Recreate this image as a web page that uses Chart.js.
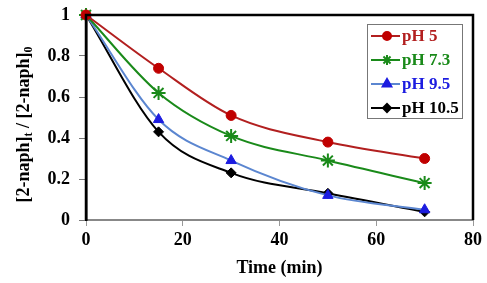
<!DOCTYPE html>
<html>
<head>
<meta charset="utf-8">
<script src="https://cdn.jsdelivr.net/npm/chart.js@4.4.1/dist/chart.umd.min.js"></script>
<style>
  html, body { margin: 0; padding: 0; background: #fff; }
  #wrap { width: 487px; height: 283px; position: relative; }
</style>
</head>
<body>
<div id="wrap"><canvas id="chart"></canvas></div>
<script>
// data
const times = [0, 15, 30, 50, 70];
const ph5 = [1, 0.74, 0.51, 0.38, 0.30];
const ph73 = [1, 0.62, 0.41, 0.29, 0.18];
const ph95 = [1, 0.49, 0.29, 0.12, 0.05];
const ph105 = [1, 0.43, 0.23, 0.13, 0.04];
const yTicks = [0, 0.2, 0.4, 0.6, 0.8, 1];
const xTicks = [0, 20, 40, 60, 80];

const FONT = '"Liberation Serif", "Times New Roman", serif';

const series = [
  { label: 'pH 5', values: ph5, line: '#b21f1f', mark: '#c00000', text: '#b21f1f', style: 'circle', r: 5, lr: 4 },
  { label: 'pH 7.3', values: ph73, line: '#1a8a1a', mark: '#1a8a1a', text: '#1a8a1a', style: 'star', r: 7, lr: 5 },
  { label: 'pH 9.5', values: ph95, line: '#5b86d0', mark: '#1c1ce0', text: '#1c1ce0', style: 'triangle', r: 6, lr: 5 },
  { label: 'pH 10.5', values: ph105, line: '#000000', mark: '#000000', text: '#000000', style: 'rectRot', r: 5, lr: 4 }
];

const datasets = series.map(s => ({
  label: s.label,
  data: times.map((t, i) => ({ x: t, y: s.values[i] })),
  borderColor: s.line,
  backgroundColor: s.mark,
  pointBorderColor: s.mark,
  pointBackgroundColor: s.mark,
  pointStyle: s.style,
  pointRadius: s.r,
  pointBorderWidth: s.style === 'star' ? 2 : 1,
  borderWidth: 2,
  cubicInterpolationMode: 'monotone',
  clip: false
}));

// frame, legend box and y title with subscripts
const extras = {
  id: 'extras',
  afterDatasetsDraw(chart) {
    const { ctx, chartArea: a } = chart;
    ctx.save();
    ctx.strokeStyle = '#000';
    ctx.lineWidth = 2.5;
    ctx.beginPath();
    ctx.moveTo(a.left, a.bottom);
    ctx.lineTo(a.left, a.top);
    ctx.lineTo(a.right, a.top);
    ctx.lineTo(a.right, a.bottom);
    ctx.stroke();

    // legend
    const bx = 367, by = 24, bw = 95, bh = 94;
    ctx.fillStyle = '#fff';
    ctx.fillRect(bx, by, bw, bh);
    ctx.strokeStyle = '#777';
    ctx.lineWidth = 1;
    ctx.strokeRect(bx + 0.5, by + 0.5, bw, bh);
    ctx.font = 'bold 17px ' + FONT;
    ctx.textBaseline = 'middle';
    series.forEach((s, i) => {
      const y = by + 12 + i * 24;
      ctx.strokeStyle = s.line;
      ctx.lineWidth = 2;
      ctx.beginPath();
      ctx.moveTo(bx + 4, y);
      ctx.lineTo(bx + 33, y);
      ctx.stroke();
      ctx.fillStyle = s.mark;
      ctx.strokeStyle = s.mark;
      Chart.helpers.drawPoint(ctx, { pointStyle: s.style, radius: s.lr, borderWidth: s.style === 'star' ? 2 : 1 }, bx + 20, y);
      ctx.fillStyle = s.text;
      ctx.textAlign = 'left';
      ctx.fillText(s.label, bx + 35, y + 1);
    });

    // y title: [2-naph]t / [2-naph]0
    ctx.translate(24, (a.top + a.bottom) / 2 + 7);
    ctx.rotate(-Math.PI / 2);
    ctx.fillStyle = '#000';
    const parts = [
      ['[2-naph]', 18, 0], ['t', 12, 5], [' / [2-naph]', 18, 0], ['0', 12, 5]
    ];
    let total = 0;
    parts.forEach(p => { ctx.font = 'bold ' + p[1] + 'px ' + FONT; total += ctx.measureText(p[0]).width; });
    let x = -total / 2;
    ctx.textAlign = 'left';
    ctx.textBaseline = 'middle';
    parts.forEach(p => {
      ctx.font = 'bold ' + p[1] + 'px ' + FONT;
      ctx.fillText(p[0], x, p[2]);
      x += ctx.measureText(p[0]).width;
    });
    ctx.restore();
  }
};

new Chart(document.getElementById('chart'), {
  type: 'line',
  data: { datasets },
  options: {
    responsive: true,
    maintainAspectRatio: false,
    animation: false,
    layout: { padding: { left: 0, right: 14, top: 15, bottom: 0 } },
    plugins: { legend: { display: false }, tooltip: { enabled: false } },
    scales: {
      x: {
        type: 'linear',
        min: 0, max: 80,
        afterBuildTicks: axis => { axis.ticks = xTicks.map(v => ({ value: v })); },
        afterFit: axis => { axis.height = 63; axis.paddingLeft = 0; axis.paddingRight = 0; },
        grid: { drawOnChartArea: false, drawTicks: true, tickLength: 6, color: '#999' },
        border: { color: '#888', width: 2 },
        ticks: { color: '#000', font: { family: FONT, size: 18, weight: 'bold' }, padding: 4 },
        title: { display: true, text: 'Time (min)', color: '#000', font: { family: FONT, size: 18, weight: 'bold' }, padding: { top: 0 } }
      },
      y: {
        min: 0, max: 1,
        afterBuildTicks: axis => { axis.ticks = yTicks.map(v => ({ value: v })); },
        afterFit: axis => { axis.width = 86; axis.paddingTop = 0; axis.paddingBottom = 0; },
        grid: { drawOnChartArea: false, drawTicks: true, tickLength: 7, color: '#777' },
        border: { color: '#000', width: 2.5 },
        ticks: { color: '#000', font: { family: FONT, size: 18, weight: 'bold' }, padding: 9, callback: v => String(v) }
      }
    }
  },
  plugins: [extras]
});
</script>
</body>
</html>
